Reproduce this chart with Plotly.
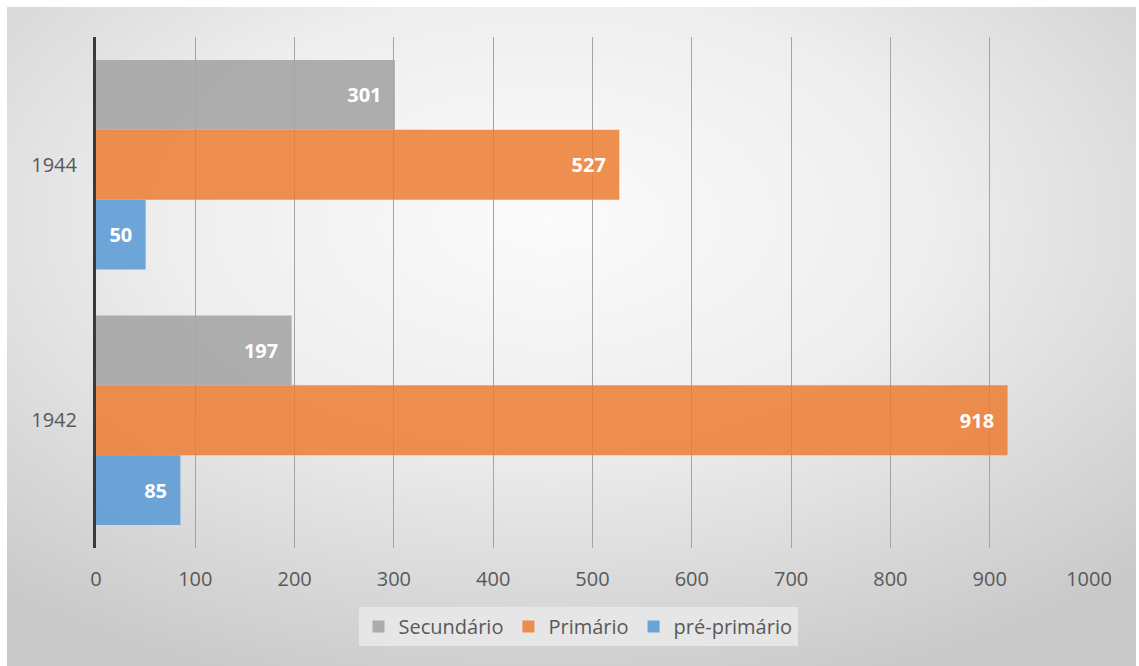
import base64
import plotly.graph_objects as go

years = ["1942", "1944"]
pre_primario = [85, 50]
primario = [918, 527]
secundario = [197, 301]
x_ticks = [0, 100, 200, 300, 400, 500, 600, 700, 800, 900, 1000]

W, H = 1139, 666
L, R, T, B = 96, 1089, 37, 548

svg = """<svg xmlns='http://www.w3.org/2000/svg' width='1129' height='659' viewBox='0 0 1129 659' preserveAspectRatio='none'>
<defs><radialGradient id='g' cx='48%' cy='32%' r='75%'>
<stop offset='0%' stop-color='#fbfbfb'/>
<stop offset='45%' stop-color='#eeeeee'/>
<stop offset='100%' stop-color='#c9c9c9'/>
</radialGradient></defs>
<rect x='0' y='0' width='1129' height='659' fill='url(#g)'/>
</svg>"""
src = "data:image/svg+xml;base64," + base64.b64encode(svg.encode()).decode()

pw, ph = R - L, B - T
PAD = "\u00a0\u00a0"

fig = go.Figure()
series = [
    ("pré-primário", pre_primario, "rgba(91,155,213,0.88)"),
    ("Primário", primario, "rgba(237,125,49,0.85)"),
    ("Secundário", secundario, "rgba(165,165,165,0.9)"),
]
for name, vals, col in series:
    fig.add_trace(go.Bar(
        y=years, x=vals, name=name, orientation="h",
        marker=dict(color=col, line=dict(width=0)),
        text=[str(v) + PAD for v in vals], textposition="inside",
        insidetextanchor="end", textangle=0,
        textfont=dict(family="Open Sans", size=20, color="white", weight="bold"),
        cliponaxis=False,
    ))

fig.update_layout(
    width=W, height=H,
    margin=dict(l=L, r=W - R, t=T, b=H - B, pad=0),
    paper_bgcolor="white", plot_bgcolor="rgba(0,0,0,0)",
    barmode="group", bargap=0.18, bargroupgap=0,
    font=dict(family="Open Sans", size=20, color="#595959"),
    showlegend=True,
    legend=dict(
        orientation="h", traceorder="reversed",
        x=(578 - L) / pw, xanchor="center",
        y=(B - 607) / ph, yanchor="top",
        bgcolor="rgba(232,232,232,0.9)",
        font=dict(size=20, color="#595959"),
        itemwidth=30,
    ),
    xaxis=dict(
        range=[0, 1000], tickvals=x_ticks, showgrid=True,
        gridcolor="#a4a4a4", gridwidth=1, zeroline=False,
        showline=False, ticks="", ticklabelstandoff=17,
        tickfont=dict(size=20, color="#595959"),
    ),
    yaxis=dict(
        type="category", categoryorder="array", categoryarray=years,
        showline=True, linecolor="#3a3a3a", linewidth=3,
        showgrid=False, ticks="", ticklabelstandoff=12,
        tickfont=dict(size=20, color="#595959"),
    ),
    images=[dict(
        source=src, xref="paper", yref="paper",
        x=(7 - L) / pw, y=1 + (T - 7) / ph,
        sizex=(1136 - 7) / pw, sizey=(666 - 7) / ph,
        xanchor="left", yanchor="top", sizing="stretch", layer="below",
    )],
)

fig.write_html("out.html")
